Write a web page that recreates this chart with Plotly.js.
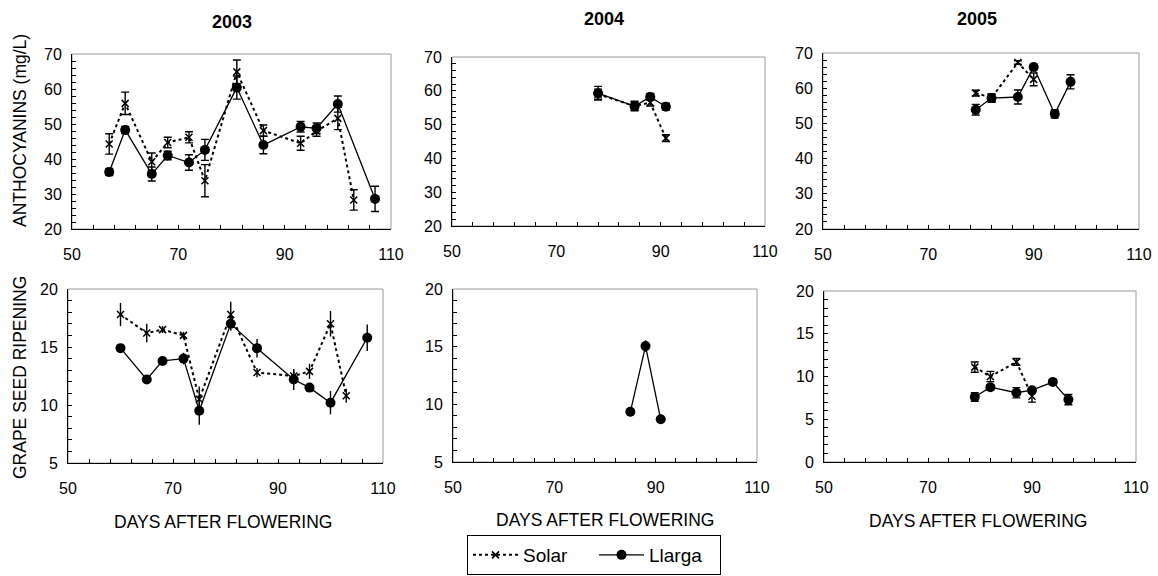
<!DOCTYPE html>
<html>
<head>
<meta charset="utf-8">
<script src="https://cdn.plot.ly/plotly-3.0.1.min.js"></script>
<style>
  html, body { margin: 0; padding: 0; background: #fff; }
  #chart { width: 1158px; height: 576px; }
</style>
</head>
<body>
<div id="chart"></div>
<script>
// ---- 2003: anthocyanins (mg/L) ----
const days03Solar   = [57, 60, 65, 68, 72, 75, 81, 86, 93, 96, 100, 103];
const anth03Solar   = [44.3, 55.9, 39.2, 44.7, 46.2, 33.8, 64.9, 48.1, 44.5, 48.0, 51.6, 28.3];
const anth03SolarSd = [2.9, 3.2, 2.5, 1.5, 1.6, 4.6, 3.4, 1.6, 2.0, 1.5, 3.2, 2.9];
const days03Llarga   = [57, 60, 65, 68, 72, 75, 81, 86, 93, 96, 100, 107];
const anth03Llarga   = [36.3, 48.3, 35.7, 41.0, 39.0, 42.6, 60.4, 44.0, 49.2, 48.8, 55.7, 28.6];
const anth03LlargaSd = [1.0, 1.0, 2.0, 1.2, 2.2, 3.0, 3.3, 2.5, 1.5, 1.5, 2.3, 3.6];

// ---- 2004: anthocyanins ----
const days04Solar   = [78, 85, 88, 91];
const anth04Solar   = [59.0, 55.5, 56.5, 46.0];
const anth04SolarSd = [1.5, 1.4, 1.0, 1.0];
const days04Llarga   = [78, 85, 88, 91];
const anth04Llarga   = [59.3, 55.4, 58.2, 55.3];
const anth04LlargaSd = [2.0, 1.2, 1.0, 1.0];

// ---- 2005: anthocyanins ----
const days05Solar   = [79, 82, 87, 90];
const anth05Solar   = [58.6, 57.3, 67.3, 62.5];
const anth05SolarSd = [0.8, 1.0, 0.5, 1.8];
const days05Llarga   = [79, 82, 87, 90, 94, 97];
const anth05Llarga   = [53.9, 57.2, 57.5, 66.0, 52.7, 61.8];
const anth05LlargaSd = [1.5, 1.2, 2.0, 0.8, 1.2, 2.0];

// ---- 2003: grape seed ripening ----
const seedDays03Solar = [60, 65, 68, 72, 75, 81, 86, 93, 96, 100, 103];
const seed03Solar     = [17.8, 16.2, 16.5, 16.0, 10.5, 17.8, 12.8, 12.5, 12.9, 17.0, 10.8];
const seed03SolarSd   = [1.0, 0.8, 0.3, 0.3, 1.1, 1.1, 0.4, 0.5, 0.65, 1.1, 0.6];
const seedDays03Llarga = [60, 65, 68, 72, 75, 81, 86, 93, 96, 100, 107];
const seed03Llarga     = [14.9, 12.2, 13.8, 14.0, 9.5, 17.0, 14.9, 12.2, 11.5, 10.2, 15.8];
const seed03LlargaSd   = [0.2, 0.3, 0.3, 0.5, 1.2, 0.6, 0.8, 0.9, 0.3, 1.0, 1.15];

// ---- 2004: grape seed ripening (Llarga only) ----
const seedDays04Llarga = [85, 88, 91];
const seed04Llarga     = [9.35, 15.05, 8.7];
const seed04LlargaSd   = [0.4, 0.5, 0.4];

// ---- 2005: grape seed ripening ----
const seedDays05Solar = [79, 82, 87, 90];
const seed05Solar     = [11.1, 10.0, 11.7, 7.7];
const seed05SolarSd   = [0.6, 0.6, 0.4, 0.7];
const seedDays05Llarga = [79, 82, 87, 90, 94, 97];
const seed05Llarga     = [7.6, 8.75, 8.1, 8.4, 9.35, 7.3];
const seed05LlargaSd   = [0.5, 0.3, 0.6, 0.3, 0.3, 0.6];

const yearLabels = ['2003', '2004', '2005'];
const xTitle = 'DAYS AFTER FLOWERING';
const yTitleTop = 'ANTHOCYANINS (mg/L)';
const yTitleBottom = 'GRAPE SEED RIPENING';

const FONT = 'Liberation Sans, Arial, sans-serif';
const W = 1158, H = 576;

function solar(ax, x, y, sd, cap, legend) {
  return {
    type: 'scatter', mode: 'lines+markers', name: 'Solar',
    x: x, y: y, xaxis: 'x' + ax, yaxis: 'y' + ax,
    showlegend: !!legend, legendrank: 1,
    line: { color: '#000', width: 2, dash: 'dot' },
    marker: { symbol: 'x-thin-open', size: 7, color: '#000', line: { color: '#000', width: 1.5 } },
    error_y: { type: 'data', array: sd, visible: true, color: '#000', thickness: 1.4, width: cap },
    cliponaxis: false
  };
}
function llarga(ax, x, y, sd, cap, legend) {
  return {
    type: 'scatter', mode: 'lines+markers', name: 'Llarga',
    x: x, y: y, xaxis: 'x' + ax, yaxis: 'y' + ax,
    showlegend: !!legend, legendrank: 2,
    line: { color: '#000', width: 1.3 },
    marker: { symbol: 'circle', size: 10, color: '#000' },
    error_y: { type: 'data', array: sd, visible: true, color: '#000', thickness: 1.4, width: cap },
    cliponaxis: false
  };
}

const traces = [
  solar('', days03Solar, anth03Solar, anth03SolarSd, 4, true),
  llarga('', days03Llarga, anth03Llarga, anth03LlargaSd, 4, true),
  solar('2', days04Solar, anth04Solar, anth04SolarSd, 4),
  llarga('2', days04Llarga, anth04Llarga, anth04LlargaSd, 4),
  solar('3', days05Solar, anth05Solar, anth05SolarSd, 4),
  llarga('3', days05Llarga, anth05Llarga, anth05LlargaSd, 4),
  solar('4', seedDays03Solar, seed03Solar, seed03SolarSd, 0),
  llarga('4', seedDays03Llarga, seed03Llarga, seed03LlargaSd, 0),
  llarga('5', seedDays04Llarga, seed04Llarga, seed04LlargaSd, 0),
  solar('6', seedDays05Solar, seed05Solar, seed05SolarSd, 4),
  llarga('6', seedDays05Llarga, seed05Llarga, seed05LlargaSd, 4)
];

// plot-area boxes in pixels: [left, right, top, bottom]
const boxes = [
  [72, 391, 54, 229], [452, 765, 57, 226], [823, 1139, 53, 229],
  [68, 383, 289, 463], [453, 757, 289, 462], [824, 1136, 291, 462]
];
const yRanges = [[20, 70], [20, 70], [20, 70], [5, 20], [5, 20], [0, 20]];
const yMajor = [10, 10, 10, 5, 5, 5];
const yMinor = [2, 2, 2, 1, 1, 1];

const layout = {
  width: W, height: H,
  margin: { l: 0, r: 0, t: 0, b: 0 },
  paper_bgcolor: '#fff', plot_bgcolor: '#fff',
  font: { family: FONT, size: 16, color: '#000' },
  showlegend: true,
  legend: {
    orientation: 'h', x: 594 / W, xanchor: 'center', y: 1 - 575 / H, yanchor: 'bottom',
    bordercolor: '#000', borderwidth: 1, bgcolor: '#fff',
    font: { family: FONT, size: 19, color: '#000' },
    itemwidth: 45, entrywidth: 66, entrywidthmode: 'pixels',
    tracegroupgap: 0, traceorder: 'normal'
  },
  shapes: [], annotations: []
};

boxes.forEach((b, i) => {
  const k = i === 0 ? '' : String(i + 1);
  layout['xaxis' + k] = {
    domain: [b[0] / W, b[1] / W], anchor: 'y' + k,
    range: [50, 110], tick0: 50, dtick: 20, tickmode: 'linear',
    ticks: 'inside', ticklen: 4, tickcolor: '#000', tickwidth: 1,
    minor: { tick0: 50, dtick: 4, ticks: 'inside', ticklen: 4, tickcolor: '#000', tickwidth: 1 },
    showline: true, linecolor: '#000', linewidth: 1, showgrid: false, zeroline: false,
    ticklabelstandoff: 11, fixedrange: true,
    tickfont: { family: FONT, size: 16, color: '#000' }
  };
  layout['yaxis' + k] = {
    domain: [1 - b[3] / H, 1 - b[2] / H], anchor: 'x' + k,
    range: yRanges[i], tick0: yRanges[i][0], dtick: yMajor[i], tickmode: 'linear',
    ticks: 'inside', ticklen: 4, tickcolor: '#000', tickwidth: 1,
    minor: { tick0: yRanges[i][0], dtick: yMinor[i], ticks: 'inside', ticklen: 4, tickcolor: '#000', tickwidth: 1 },
    showline: true, linecolor: '#000', linewidth: 1, showgrid: false, zeroline: false,
    ticklabelstandoff: 6, fixedrange: true,
    tickfont: { family: FONT, size: 16, color: '#000' }
  };
  // light frame on the top and right sides of each plot area
  layout.shapes.push({
    type: 'rect', xref: 'x' + k + ' domain', yref: 'y' + k + ' domain',
    x0: 0, x1: 1, y0: 0, y1: 1, layer: 'below',
    line: { color: '#9a9a9a', width: 1 }, fillcolor: 'rgba(0,0,0,0)'
  });
});

// year headings
[[232, 22], [604, 19], [977, 19]].forEach((p, i) => {
  layout.annotations.push({
    xref: 'paper', yref: 'paper', x: p[0] / W, y: 1 - p[1] / H,
    xanchor: 'center', yanchor: 'middle', showarrow: false,
    text: '<b>' + yearLabels[i] + '</b>',
    font: { family: FONT, size: 18, color: '#000' }
  });
});
// x-axis titles under the bottom row
[[223, 522], [605, 520], [978, 521]].forEach(p => {
  layout.annotations.push({
    xref: 'paper', yref: 'paper', x: p[0] / W, y: 1 - p[1] / H,
    xanchor: 'center', yanchor: 'middle', showarrow: false,
    text: xTitle, font: { family: FONT, size: 17.5, color: '#000' }
  });
});
// y-axis titles
[[yTitleTop, 131], [yTitleBottom, 378]].forEach(p => {
  layout.annotations.push({
    xref: 'paper', yref: 'paper', x: 20 / W, y: 1 - p[1] / H,
    xanchor: 'center', yanchor: 'middle', showarrow: false, textangle: -90,
    text: p[0], font: { family: FONT, size: 17.5, color: '#000' }
  });
});

Plotly.newPlot('chart', traces, layout, { staticPlot: true, displayModeBar: false });
</script>
</body>
</html>
